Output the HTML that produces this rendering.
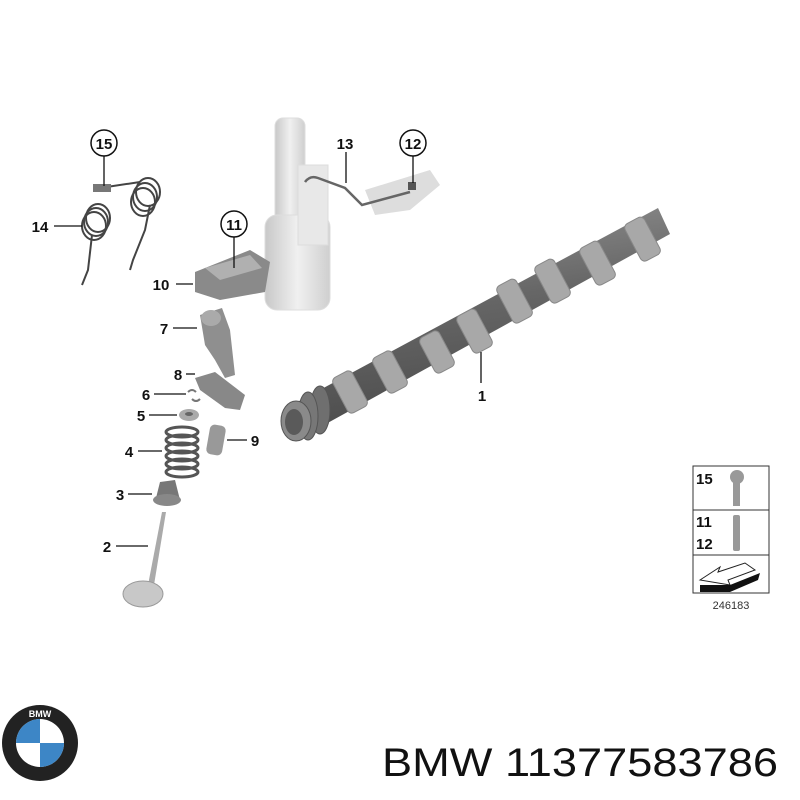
<!DOCTYPE html>
<html><head><meta charset="utf-8"><style>
html,body{margin:0;padding:0;background:#fff;width:800px;height:800px;overflow:hidden}
svg{display:block}
.l{font-family:"Liberation Sans",sans-serif;font-weight:bold;font-size:15px;fill:#111}
</style></head><body>
<svg width="800" height="800" viewBox="0 0 800 800" xmlns="http://www.w3.org/2000/svg">
<defs>
<linearGradient id="g1" x1="0" x2="1"><stop offset="0" stop-color="#c8c8c8"/><stop offset=".5" stop-color="#f0f0f0"/><stop offset="1" stop-color="#cfcfcf"/></linearGradient>
<linearGradient id="cam" x1="0" y1="0" x2="0.25" y2="1"><stop offset="0" stop-color="#999"/><stop offset=".5" stop-color="#666"/><stop offset="1" stop-color="#4a4a4a"/></linearGradient>
</defs>
<g fill="#e6e6e6" stroke="#ddd">
<rect x="275" y="118" width="30" height="190" rx="8" fill="url(#g1)"/>
<rect x="265" y="215" width="65" height="95" rx="12" fill="url(#g1)"/>
<rect x="298" y="165" width="30" height="80" fill="#e8e8e8"/>
</g>
<path d="M365 190 L430 170 L440 185 L410 210 L375 215 Z" fill="#ddd"/>
<path d="M305 182 Q310 175 318 178 L345 188 L362 205 L410 192" fill="none" stroke="#666" stroke-width="2.5"/>
<rect x="408" y="182" width="8" height="8" fill="#555"/>
<g fill="none" stroke="#444" stroke-width="2">
<path d="M82 285 L88 270 L92 235 M130 270 L133 260 L145 230 L150 205"/>
<ellipse cx="98" cy="218" rx="12" ry="14"/><ellipse cx="96" cy="222" rx="12" ry="14"/><ellipse cx="94" cy="226" rx="12" ry="14"/>
<ellipse cx="148" cy="192" rx="12" ry="14"/><ellipse cx="145" cy="197" rx="12" ry="14"/><ellipse cx="143" cy="202" rx="12" ry="14"/>
<path d="M100 188 L140 182"/>
</g>
<rect x="93" y="184" width="18" height="8" fill="#777"/>
<path d="M195 272 L250 250 L270 262 L265 292 L220 300 L195 292 Z" fill="#8a8a8a"/>
<path d="M205 268 L250 255 L262 268 L220 280 Z" fill="#b0b0b0"/>
<path d="M200 315 L222 308 L230 330 L235 375 L225 378 L215 360 L205 345 Z" fill="#8f8f8f"/>
<ellipse cx="211" cy="318" rx="10" ry="8" fill="#aaa"/>
<path d="M195 378 L215 372 L245 395 L240 410 L225 408 L200 390 Z" fill="#888"/>
<path d="M188 392 q4 -4 8 0 M192 399 q4 4 8 0" stroke="#777" stroke-width="2" fill="none"/>
<ellipse cx="189" cy="415" rx="10" ry="6" fill="#aaa"/><ellipse cx="189" cy="414" rx="4" ry="2" fill="#666"/>
<g fill="none" stroke="#555" stroke-width="3">
<ellipse cx="182" cy="432" rx="16" ry="5"/><ellipse cx="182" cy="440" rx="16" ry="5"/><ellipse cx="182" cy="448" rx="16" ry="5"/><ellipse cx="182" cy="456" rx="16" ry="5"/><ellipse cx="182" cy="464" rx="16" ry="5"/><ellipse cx="182" cy="472" rx="16" ry="5"/>
</g>
<rect x="208" y="425" width="16" height="30" rx="5" fill="#999" transform="rotate(10 216 440)"/>
<path d="M160 482 L175 480 L180 500 L155 502 Z" fill="#777"/><ellipse cx="167" cy="500" rx="14" ry="6" fill="#888"/>
<path d="M162 512 L166 512 L154 585 L148 585 Z" fill="#aaa"/>
<ellipse cx="143" cy="594" rx="20" ry="13" fill="#c8c8c8" stroke="#999"/>
<!-- camshaft -->
<path d="M290 406 L658 208 L670 234 L304 436 Z" fill="url(#cam)"/>
<g fill="#a8a8a8" stroke="#888">
<g transform="rotate(-28 350 392)"><rect x="339" y="372" width="22" height="40" rx="5"/></g>
<g transform="rotate(-28 390 372)"><rect x="379" y="352" width="22" height="40" rx="5"/></g>
<g transform="rotate(-28 437 352)"><rect x="426" y="332" width="22" height="40" rx="5"/></g>
<g transform="rotate(-28 475 332)"><rect x="464" y="310" width="22" height="42" rx="5"/></g>
<g transform="rotate(-28 515 302)"><rect x="504" y="280" width="22" height="42" rx="5"/></g>
<g transform="rotate(-28 553 282)"><rect x="542" y="260" width="22" height="42" rx="5"/></g>
<g transform="rotate(-28 598 264)"><rect x="587" y="242" width="22" height="42" rx="5"/></g>
<g transform="rotate(-28 643 240)"><rect x="632" y="218" width="22" height="42" rx="5"/></g>
</g>
<ellipse cx="320" cy="410" rx="10" ry="24" fill="#6f6f6f" stroke="#555"/>
<ellipse cx="308" cy="416" rx="10" ry="24" fill="#777" stroke="#555"/>
<ellipse cx="296" cy="421" rx="15" ry="20" fill="#8a8a8a" stroke="#555"/>
<ellipse cx="294" cy="422" rx="9" ry="13" fill="#5a5a5a"/>
<g stroke="#111" stroke-width="1.3">
<line x1="54" y1="226" x2="82" y2="226"/>
<line x1="104" y1="156" x2="104" y2="186"/>
<line x1="234" y1="236" x2="234" y2="268"/>
<line x1="413" y1="156" x2="413" y2="183"/>
<line x1="346" y1="152" x2="346" y2="183"/>
<line x1="176" y1="284" x2="193" y2="284"/>
<line x1="173" y1="328" x2="197" y2="328"/>
<line x1="186" y1="374" x2="195" y2="374"/>
<line x1="154" y1="394" x2="186" y2="394"/>
<line x1="149" y1="415" x2="177" y2="415"/>
<line x1="138" y1="451" x2="162" y2="451"/>
<line x1="227" y1="440" x2="247" y2="440"/>
<line x1="128" y1="494" x2="152" y2="494"/>
<line x1="116" y1="546" x2="148" y2="546"/>
<line x1="481" y1="352" x2="481" y2="383"/>
</g>
<g fill="#fff" stroke="#111" stroke-width="1.5">
<circle cx="104" cy="143" r="13"/><circle cx="413" cy="143" r="13"/><circle cx="234" cy="224" r="13"/>
</g>
<g class="l" text-anchor="middle">
<text x="104" y="149">15</text><text x="413" y="149">12</text><text x="234" y="230">11</text>
<text x="345" y="149">13</text><text x="40" y="232">14</text><text x="161" y="290">10</text>
<text x="164" y="334">7</text><text x="178" y="380">8</text><text x="146" y="400">6</text>
<text x="141" y="421">5</text><text x="129" y="457">4</text><text x="255" y="446">9</text>
<text x="120" y="500">3</text><text x="107" y="552">2</text><text x="482" y="401">1</text>
</g>
<g fill="none" stroke="#333" stroke-width="1">
<rect x="693" y="466" width="76" height="127"/>
<line x1="693" y1="510" x2="769" y2="510"/><line x1="693" y1="555" x2="769" y2="555"/>
</g>
<g class="l"><text x="696" y="484">15</text><text x="696" y="527">11</text><text x="696" y="549">12</text></g>
<circle cx="737" cy="477" r="7" fill="#999"/><rect x="733" y="482" width="7" height="24" fill="#999"/>
<rect x="733" y="515" width="7" height="36" rx="2" fill="#999"/>
<path d="M700 580 L720 567 L718 572 L745 563 L755 570 L728 580 L730 585 Z" fill="#fff" stroke="#222"/>
<path d="M700 585 L730 585 L760 573 L758 580 L730 592 L700 592 Z" fill="#111"/>
<text x="731" y="609" text-anchor="middle" font-family="Liberation Sans,sans-serif" font-size="11" fill="#333">246183</text>
<circle cx="40" cy="743" r="38" fill="#222"/>
<circle cx="40" cy="743" r="24" fill="#fff"/>
<path d="M40 743 L40 719 A24 24 0 0 0 16 743 Z" fill="#3d86c6"/>
<path d="M40 743 L64 743 A24 24 0 0 1 40 767 Z" fill="#3d86c6"/>
<text x="40" y="717" text-anchor="middle" font-family="Liberation Sans,sans-serif" font-size="9" font-weight="bold" fill="#fff">BMW</text>
<text x="382" y="776" textLength="396" lengthAdjust="spacingAndGlyphs" font-family="Liberation Sans,sans-serif" font-size="40" fill="#111">BMW 11377583786</text>
</svg>
</body></html>
